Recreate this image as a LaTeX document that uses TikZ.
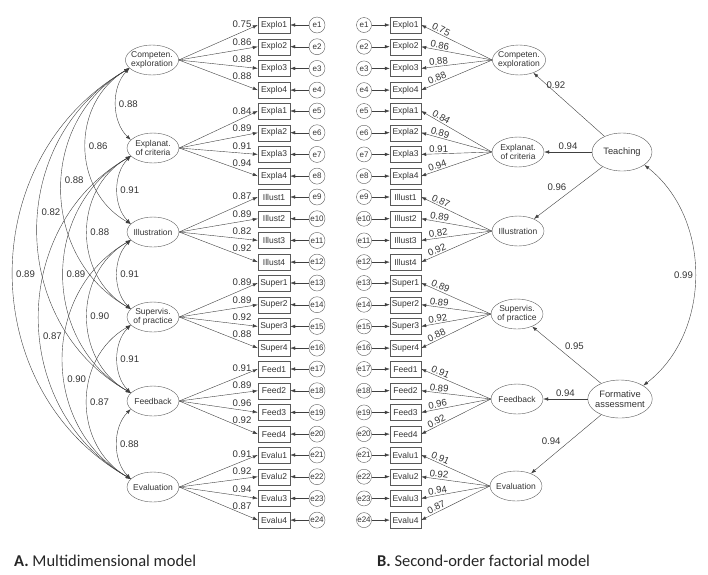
\documentclass[tikz,border=0pt]{standalone}
\usepackage{fontspec}
\setmainfont{Liberation Sans}
\newfontfamily\capfont{Carlito}
\usetikzlibrary{shapes.geometric,arrows.meta}

\begin{document}
\begin{tikzpicture}[x=1pt,y=-1pt,
		lat/.style={ellipse,draw=black!65,text=black!80,align=center,inner xsep=-2pt,inner ysep=0.5pt,minimum width=52pt,minimum height=30pt,font=\fontsize{8.5}{9}\selectfont},
		hilat/.style={lat,minimum width=60pt,minimum height=38pt,font=\fontsize{9.3}{10.5}\selectfont},
		obs/.style={rectangle,draw=black!65,text=black!80,minimum width=32pt,minimum height=16pt,inner sep=1pt,font=\fontsize{8.5}{9}\selectfont},
		err/.style={circle,draw=black!65,text=black!80,minimum size=16pt,inner sep=0pt,font=\fontsize{8}{9}\selectfont},
		load/.style={draw=black!75,-{Latex[length=5pt,width=3.5pt]}},
		cov/.style={draw=black!75,{Latex[length=5pt,width=3.5pt]}-{Latex[length=5pt,width=3.5pt]}},
		coef/.style={font=\fontsize{9.6}{11}\selectfont,inner sep=0.8pt,text=black!80},
		captext/.style={anchor=base west,inner sep=0pt,text=black!85,font=\capfont\fontsize{16.5}{18}\selectfont}]
	\useasboundingbox (0,0) rectangle (708,574);
	\node[lat] (fa1) at (152,60) {Competen.\\exploration};
	\node[lat] (fa2) at (153,148) {Explanat.\\of criteria};
	\node[lat] (fa3) at (153,232) {Illustration};
	\node[lat] (fa4) at (153,317) {Supervis.\\of practice};
	\node[lat] (fa5) at (153,401) {Feedback};
	\node[lat] (fa6) at (153,487) {Evaluation};
	\node[lat] (fb1) at (519,60) {Competen.\\exploration};
	\node[lat] (fb2) at (518,152) {Explanat.\\of criteria};
	\node[lat] (fb3) at (518,231) {Illustration};
	\node[lat] (fb4) at (517,314) {Supervis.\\of practice};
	\node[lat] (fb5) at (517,399) {Feedback};
	\node[lat] (fb6) at (516,486) {Evaluation};
	\node[hilat] (ft) at (622,152) {Teaching};
	\node[hilat] (ff) at (620,399) {Formative\\assessment};
	\foreach \nm/\va/\vb/\vc/\vd [count=\f] in {Explo/0.75/0.86/0.88/0.88,Expla/0.84/0.89/0.91/0.94,Illust/0.87/0.89/0.82/0.92,Super/0.89/0.89/0.92/0.88,Feed/0.91/0.89/0.96/0.92,Evalu/0.91/0.92/0.94/0.87}
		\foreach \j/\v in {1/\va,2/\vb,3/\vc,4/\vd} {
			\pgfmathtruncatemacro\k{4*(\f-1)+\j}
			\pgfmathsetmacro\yy{25+86*(\f-1)+21.7*(\j-1)}
			\node[obs] (xa\k) at (274,\yy) {\nm\j};
			\node[err] (ea\k) at (317,\yy) {e\k};
			\draw[load] (ea\k) -- (xa\k);
			\draw[load] (fa\f.east) -- node[coef,pos=0.8,above=3pt] {\v} (xa\k.west);
			\node[obs,minimum width=31pt] (xb\k) at (405.5,\yy) {\nm\j};
			\node[err,minimum size=15pt] (eb\k) at (364,\yy) {e\k};
			\draw[load] (eb\k) -- (xb\k);
			\draw[load] (fb\f.west) -- node[coef,sloped,pos=0.75,above=0.5pt] {\v} (xb\k.east);
		}
	\foreach \i/\j/\b/\lo/\v/\p in {1/2/45/0.95/0.88/0.5,2/3/45/0.95/0.91/0.5,3/4/45/0.95/0.91/0.5,4/5/45/0.95/0.91/0.5,5/6/45/0.95/0.88/0.5,
			1/3/60/1.12/0.86/0.5,2/4/60/1.12/0.88/0.5,3/5/60/1.12/0.90/0.5,4/6/60/1.12/0.87/0.5,
			1/4/60/1.12/0.88/0.47,2/5/60/1.12/0.89/0.5,3/6/60/1.12/0.90/0.57,
			1/5/60/1.12/0.82/0.45,2/6/60/1.12/0.87/0.55,1/6/60/1.12/0.89/0.5}
		\draw[cov] (fa\i.200) to[bend right=\b,looseness=\lo] node[coef,right=2pt,pos=\p] {\v} (fa\j.160);
	\draw[load] (ft) -- node[coef,pos=0.8,anchor=west,xshift=-2pt] {0.92} (fb1);
	\draw[load] (ft) -- node[coef,above=1pt] {0.94} (fb2);
	\draw[load] (ft) -- node[coef,pos=0.5,above left=1pt] {0.96} (fb3);
	\draw[load] (ff) -- node[coef,pos=0.55,above right=1pt] {0.95} (fb4);
	\draw[load] (ff) -- node[coef,above=1pt] {0.94} (fb5);
	\draw[load] (ff) -- node[coef,pos=0.55,above left=1pt] {0.94} (fb6);
	\draw[cov] (ft.-30) to[bend left=52] node[coef,left=1pt] {0.99} (ff.30);
	\node[captext] (capa) at (14,566) {\textbf{A.} Multidimensional model};
	\node[captext] (capb) at (377,566) {\textbf{B.} Second-order factorial model};
\end{tikzpicture}
\end{document}
